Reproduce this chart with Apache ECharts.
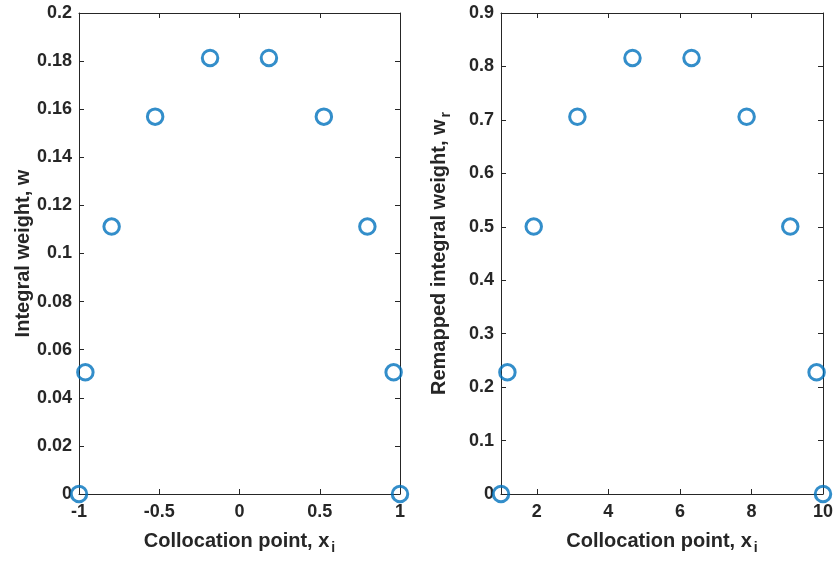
<!DOCTYPE html>
<html>
<head>
<meta charset="utf-8">
<script src="https://cdn.jsdelivr.net/npm/echarts@6/dist/echarts.min.js"></script>
<style>
  html, body { margin: 0; padding: 0; background: #fff; }
  #chart { width: 837px; height: 561px; }
</style>
</head>
<body>
<div id="chart"></div>
<script>
// collocation points and weights
var xLeft = [-1, -0.9603, -0.7967, -0.5255, -0.1834, 0.1834, 0.5255, 0.7967, 0.9603, 1];
var wLeft = [0, 0.0506, 0.1112, 0.1569, 0.1813, 0.1813, 0.1569, 0.1112, 0.0506, 0];
var xRight = [1, 1.179, 1.915, 3.135, 4.675, 6.325, 7.865, 9.085, 9.821, 10];
var wRight = [0, 0.2277, 0.5004, 0.7059, 0.8158, 0.8158, 0.7059, 0.5004, 0.2277, 0];
var xRightTicks = [2, 4, 6, 8, 10];

var ink = '#262626';
var font = 'Liberation Sans';

function pairs(xs, ys) {
    return xs.map(function(x, i) { return [x, ys[i]]; });
}

var subRich = {
    sub: { fontSize: 14, fontWeight: 'bold', fontFamily: font, color: ink, padding: [13, 0, 0, 2] }
};
var nameStyle = {
    fontFamily: font, fontWeight: 'bold', fontSize: 20, color: ink, rich: subRich
};

function lineAx() {
    return { show: true, onZero: false, lineStyle: { color: ink, width: 1 } };
}
function tickAx() {
    return { show: true, inside: true, length: 5, lineStyle: { color: ink } };
}
var labelStyle = { fontFamily: font, fontWeight: 'bold', fontSize: 18, color: ink };

var markerStyle = { color: 'rgba(0,0,0,0)', borderColor: '#0072BD', borderWidth: 3 };

var myChart = echarts.init(document.getElementById('chart'));
var option = {
    backgroundColor: '#fff',
    animation: false,
    grid: [
        { left: 79, top: 13, width: 321, height: 481 },
        { left: 501, top: 13, width: 322, height: 481 }
    ],
    xAxis: [
        {
            gridIndex: 0, type: 'value', min: -1, max: 1, interval: 0.5,
            axisLine: lineAx(), axisTick: tickAx(), splitLine: { show: false },
            axisLabel: Object.assign({ margin: 9 }, labelStyle),
            name: 'Collocation point, x{sub|i}', nameLocation: 'middle', nameGap: 34,
            nameTextStyle: nameStyle
        },
        {
            gridIndex: 0, type: 'value', min: -1, max: 1, interval: 0.5, position: 'top',
            axisLine: lineAx(), axisTick: tickAx(), splitLine: { show: false },
            axisLabel: { show: false }
        },
        {
            gridIndex: 1, type: 'value', min: 1, max: 10,
            axisLine: lineAx(),
            axisTick: Object.assign(tickAx(), { customValues: xRightTicks }),
            splitLine: { show: false },
            axisLabel: Object.assign({ margin: 9, customValues: xRightTicks }, labelStyle),
            name: 'Collocation point, x{sub|i}', nameLocation: 'middle', nameGap: 34,
            nameTextStyle: nameStyle
        },
        {
            gridIndex: 1, type: 'value', min: 1, max: 10, position: 'top',
            axisLine: lineAx(),
            axisTick: Object.assign(tickAx(), { customValues: xRightTicks }),
            splitLine: { show: false },
            axisLabel: { show: false }
        }
    ],
    yAxis: [
        {
            gridIndex: 0, type: 'value', min: 0, max: 0.2, interval: 0.02,
            axisLine: lineAx(), axisTick: tickAx(), splitLine: { show: false },
            axisLabel: Object.assign({ margin: 7 }, labelStyle),
            name: 'Integral weight, w', nameLocation: 'middle', nameGap: 46,
            nameTextStyle: nameStyle
        },
        {
            gridIndex: 0, type: 'value', min: 0, max: 0.2, interval: 0.02, position: 'right',
            axisLine: lineAx(), axisTick: tickAx(), splitLine: { show: false },
            axisLabel: { show: false }
        },
        {
            gridIndex: 1, type: 'value', min: 0, max: 0.9, interval: 0.1,
            axisLine: lineAx(), axisTick: tickAx(), splitLine: { show: false },
            axisLabel: Object.assign({ margin: 7 }, labelStyle),
            name: 'Remapped integral weight, w{sub|r}', nameLocation: 'middle', nameGap: 48,
            nameTextStyle: nameStyle
        },
        {
            gridIndex: 1, type: 'value', min: 0, max: 0.9, interval: 0.1, position: 'right',
            axisLine: lineAx(), axisTick: tickAx(), splitLine: { show: false },
            axisLabel: { show: false }
        }
    ],
    series: [
        {
            type: 'scatter', xAxisIndex: 0, yAxisIndex: 0, clip: false,
            data: pairs(xLeft, wLeft),
            symbol: 'circle', symbolSize: 15.5,
            itemStyle: markerStyle,
            z: 5
        },
        {
            type: 'scatter', xAxisIndex: 2, yAxisIndex: 2, clip: false,
            data: pairs(xRight, wRight),
            symbol: 'circle', symbolSize: 15.5,
            itemStyle: markerStyle,
            z: 5
        }
    ]
};
myChart.setOption(option);
</script>
</body>
</html>
